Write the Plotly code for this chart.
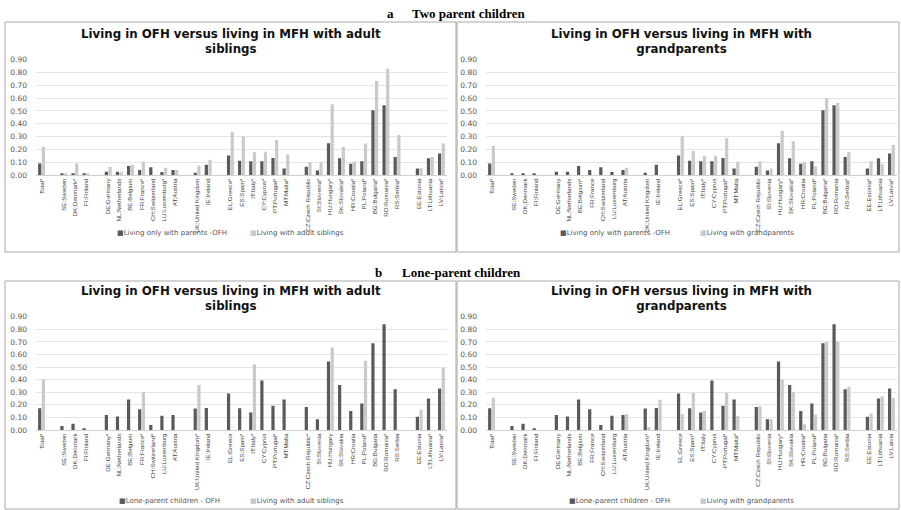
import plotly.graph_objects as go

W, H = 901, 510

# ---------------- data ----------------
# indices (in the 31-item lists) after which an empty slot separates country groups
GAP_AFTER = [0, 3, 10, 12, 18, 27]

labels_a1 = ["Total*", "SE:Sweden", "DK:Denmark*", "FI:Finland",
             "DE:Germany", "NL:Netherlands", "BE:Belgium", "FR:France*", "CH:Switzerland", "LU:Luxemburg*", "AT:Austria",
             "UK:United Kingdom", "IE:Ireland",
             "EL:Greece*", "ES:Spain*", "IT:Italy*", "CY:Cyprus*", "PT:Portugal*", "MT:Malta*",
             "CZ:Czech Republic", "SI:Slovenia*", "HU:Hungary*", "SK:Slovakia*", "HR:Croatia*", "PL:Poland*",
             "BG:Bulgaria*", "RO:Romania*", "RS:Serbia*",
             "EE:Estonia", "LT:Lithuania", "LV:Latvia*"]
labels_a2 = ["Total*", "SE:Sweden", "DK:Denmark", "FI:Finland",
             "DE:Germany", "NL:Netherlands", "BE:Belgium*", "FR:France", "CH:Switzerland", "LU:Luxemburg", "AT:Austria",
             "UK:United Kingdom", "IE:Ireland",
             "EL:Greece*", "ES:Spain*", "IT:Italy*", "CY:Cyprus", "PT:Portugal*", "MT:Malta",
             "CZ:Czech Republic", "SI:Slovenia", "HU:Hungary*", "SK:Slovakia*", "HR:Croatia", "PL:Poland*",
             "BG:Bulgaria*", "RO:Romania", "RS:Serbia*",
             "EE:Estonia*", "LT:Lithuania", "LV:Latvia*"]
labels_b1 = ["Total*", "SE:Sweden", "DK:Denmark", "FI:Finland",
             "DE:Germany*", "NL:Netherlands", "BE:Belgium", "FR:France*", "CH:Switzerland*", "LU:Luxemburg", "AT:Austria",
             "UK:United Kingdom*", "IE:Ireland",
             "EL:Greece", "ES:Spain*", "IT:Italy*", "CY:Cyprus", "PT:Portugal*", "MT:Malta",
             "CZ:Czech Republic*", "SI:Slovenia", "HU:Hungary", "SK:Slovakia", "HR:Croatia", "PL:Poland*",
             "BG:Bulgaria", "RO:Romania*", "RS:Serbia",
             "EE:Estonia", "LT:Lithuania*", "LV:Latvia*"]
labels_b2 = ["Total*", "SE:Sweden", "DK:Denmark", "FI:Finland",
             "DE:Germany", "NL:Netherlands", "BE:Belgium", "FR:France", "CH:Switzerland", "LU:Luxemburg", "AT:Austria",
             "UK:United Kingdom*", "IE:Ireland",
             "EL:Greece", "ES:Spain*", "IT:Italy", "CY:Cyprus", "PT:Portugal*", "MT:Malta*",
             "CZ:Czech Republic", "SI:Slovenia", "HU:Hungary*", "SK:Slovakia", "HR:Croatia*", "PL:Poland*",
             "BG:Bulgaria", "RO:Romania*", "RS:Serbia",
             "EE:Estonia", "LT:Lithuania", "LV:Latvia"]

# two-parent children living only with parents (OFH)
two_parent_ofh = [0.09, 0.013, 0.013, 0.013,
                  0.026, 0.026, 0.07, 0.04, 0.06, 0.023, 0.04,
                  0.018, 0.08,
                  0.153, 0.112, 0.107, 0.107, 0.133, 0.05,
                  0.065, 0.036, 0.247, 0.13, 0.088, 0.107,
                  0.505, 0.544, 0.14,
                  0.05, 0.13, 0.167]
two_parent_adult_sib = [0.22, 0.013, 0.09, 0.013,
                        0.062, 0.026, 0.08, 0.104, 0.0, 0.057, 0.04,
                        0.075, 0.12,
                        0.338, 0.30, 0.177, 0.182, 0.273, 0.16,
                        0.10, 0.10, 0.552, 0.22, 0.104, 0.245,
                        0.733, 0.83, 0.315,
                        0.052, 0.14, 0.245]
two_parent_grandp = [0.226, 0.0, 0.0, 0.0,
                     0.0, 0.0, 0.0, 0.0, 0.0, 0.0, 0.057,
                     0.0, 0.0,
                     0.307, 0.187, 0.15, 0.15, 0.286, 0.104,
                     0.107, 0.05, 0.346, 0.263, 0.10, 0.068,
                     0.60, 0.562, 0.182,
                     0.11, 0.086, 0.237]
lone_parent_ofh = [0.172, 0.032, 0.05, 0.013,
                   0.12, 0.108, 0.243, 0.164, 0.04, 0.114, 0.12,
                   0.17, 0.175,
                   0.29, 0.172, 0.14, 0.394, 0.193, 0.243,
                   0.183, 0.085, 0.545, 0.357, 0.15, 0.21,
                   0.69, 0.84, 0.323,
                   0.106, 0.25, 0.33]
lone_parent_adult_sib = [0.402, 0.0, 0.0, 0.0,
                         0.0, 0.0, 0.0, 0.30, 0.0, 0.0, 0.0,
                         0.357, 0.0,
                         0.0, 0.0, 0.52, 0.0, 0.0, 0.0,
                         0.0, 0.0, 0.656, 0.0, 0.0, 0.55,
                         0.0, 0.0, 0.0,
                         0.16, 0.0, 0.495]
lone_parent_grandp = [0.257, 0.0, 0.0, 0.0,
                      0.0, 0.0, 0.0, 0.0, 0.0, 0.0, 0.127,
                      0.024, 0.24,
                      0.127, 0.294, 0.15, 0.0, 0.296, 0.114,
                      0.188, 0.085, 0.402, 0.304, 0.045, 0.122,
                      0.70, 0.70, 0.344,
                      0.132, 0.267, 0.254]

y_ticks = [0.0, 0.1, 0.2, 0.3, 0.4, 0.5, 0.6, 0.7, 0.8, 0.9]

panel_titles = ["Living in OFH versus living in MFH with adult<br>siblings",
                "Living in OFH versus living in MFH with<br>grandparents",
                "Living in OFH versus living in MFH with adult<br>siblings",
                "Living in OFH versus living in MFH with<br>grandparents"]
series_names = [("Living only with parents -OFH", "Living with adult siblings"),
                ("Living only with parents -OFH", "Living with grandparents"),
                ("Lone-parent children - OFH", "Living with adult siblings"),
                ("Lone-parent children - OFH", "Living with grandparents")]

DARK = "#5a5a5a"
LIGHT = "#cacaca"
GRAY_TXT = "#555555"


def with_gaps(labels, values):
    cats, vals, k = [], [], 1
    for i, (lab, v) in enumerate(zip(labels, values)):
        cats.append(lab)
        vals.append(v if v > 0 else None)
        if i in GAP_AFTER:
            cats.append(" " * k)
            vals.append(None)
            k += 1
    return cats, vals


def px_x(p):
    return p / W


def px_y(p):
    return 1 - p / H


panels = [
    (labels_a1, two_parent_ofh, two_parent_adult_sib),
    (labels_a2, two_parent_ofh, two_parent_grandp),
    (labels_b1, lone_parent_ofh, lone_parent_adult_sib),
    (labels_b2, lone_parent_ofh, lone_parent_grandp),
]

x_domains = [[px_x(36), px_x(447)], [px_x(486), px_x(897)]]
y_domains = [[px_y(175), px_y(59.7)], [px_y(430), px_y(316.7)]]
panel_cx = [231, 681]
title_cy = [41, 298]
legend_cy = [233, 501]
# left x of the two legend items in each panel
legend_x = [[(115, 248), (558, 698)], [(117, 248), (567, 698)]]

fig = go.Figure()
layout = dict(width=W, height=H, margin=dict(l=0, r=0, t=0, b=0),
              paper_bgcolor="white", plot_bgcolor="white",
              barmode="group", bargap=0.34, bargroupgap=0.12,
              showlegend=False, template="none")
annotations = []
shapes = []

for idx, (labs, dark_vals, light_vals) in enumerate(panels):
    row, col = divmod(idx, 2)
    n = idx + 1
    xs = "" if n == 1 else str(n)
    cats, dv = with_gaps(labs, dark_vals)
    _, lv = with_gaps(labs, light_vals)
    nm1, nm2 = series_names[idx]
    fig.add_trace(go.Bar(x=cats, y=dv, name=nm1, marker_color=DARK, marker_line_width=0,
                         xaxis="x" + xs, yaxis="y" + xs))
    fig.add_trace(go.Bar(x=cats, y=lv, name=nm2, marker_color=LIGHT, marker_line_width=0,
                         xaxis="x" + xs, yaxis="y" + xs))
    layout["xaxis" + xs] = dict(domain=x_domains[col], anchor="y" + xs, type="category",
                                categoryorder="array", categoryarray=cats,
                                tickangle=-90,
                                tickfont=dict(family="Liberation Sans Narrow, Liberation Sans, Arial", size=6.2, color="#404040"),
                                showline=True, linecolor="#d0d0d0", linewidth=1, ticks="",
                                showgrid=False, automargin=False, fixedrange=True)
    layout["yaxis" + xs] = dict(domain=y_domains[row], anchor="x" + xs, range=[0, 0.9],
                                tickvals=y_ticks, tickformat=".2f",
                                tickfont=dict(family="DejaVu Sans", size=7.5, color=GRAY_TXT),
                                showgrid=True, gridcolor="#e4e4e4", gridwidth=1,
                                zeroline=False, showline=False, ticks="",
                                ticklabelstandoff=8, automargin=False, fixedrange=True)
    annotations.append(dict(text="<b>" + panel_titles[idx] + "</b>", xref="paper", yref="paper",
                            x=px_x(panel_cx[col]), y=px_y(title_cy[row]), xanchor="center", yanchor="middle",
                            showarrow=False, font=dict(family="DejaVu Sans", size=11.8, color="#111111")))
    # legend entries (colour swatch + series name)
    for (lx, nm, colr) in [(legend_x[row][col][0], nm1, DARK), (legend_x[row][col][1], nm2, LIGHT)]:
        annotations.append(dict(text=f'<span style="color:{colr}">■</span>{nm}', xref="paper", yref="paper",
                                x=px_x(lx), y=px_y(legend_cy[row]), xanchor="left", yanchor="middle",
                                showarrow=False, font=dict(family="DejaVu Sans", size=7, color=GRAY_TXT)))

# row titles
for letter, lx, text, tx, ty in [("a", 390, "Two parent children", 410, 13),
                                 ("b", 378, "Lone-parent children", 400, 272)]:
    annotations.append(dict(text="<b>" + letter + "</b>", xref="paper", yref="paper", x=px_x(lx), y=px_y(ty),
                            xanchor="center", yanchor="middle", showarrow=False,
                            font=dict(family="Liberation Serif, Times New Roman, serif", size=13, color="black")))
    annotations.append(dict(text="<b>" + text + "</b>", xref="paper", yref="paper", x=px_x(tx), y=px_y(ty),
                            xanchor="left", yanchor="middle", showarrow=False,
                            font=dict(family="Liberation Serif, Times New Roman, serif", size=13, color="black")))

# panel frames
for (y0, y1) in [(22, 252), (281, 509)]:
    for (x0, x1) in [(5, 456), (457, 899)]:
        shapes.append(dict(type="rect", xref="paper", yref="paper",
                           x0=px_x(x0), x1=px_x(x1), y0=px_y(y1), y1=px_y(y0),
                           line=dict(color="#a8a8a8", width=1), fillcolor="rgba(0,0,0,0)", layer="below"))

layout["annotations"] = annotations
layout["shapes"] = shapes
fig.update_layout(**layout)

fig.write_html("out.html")
